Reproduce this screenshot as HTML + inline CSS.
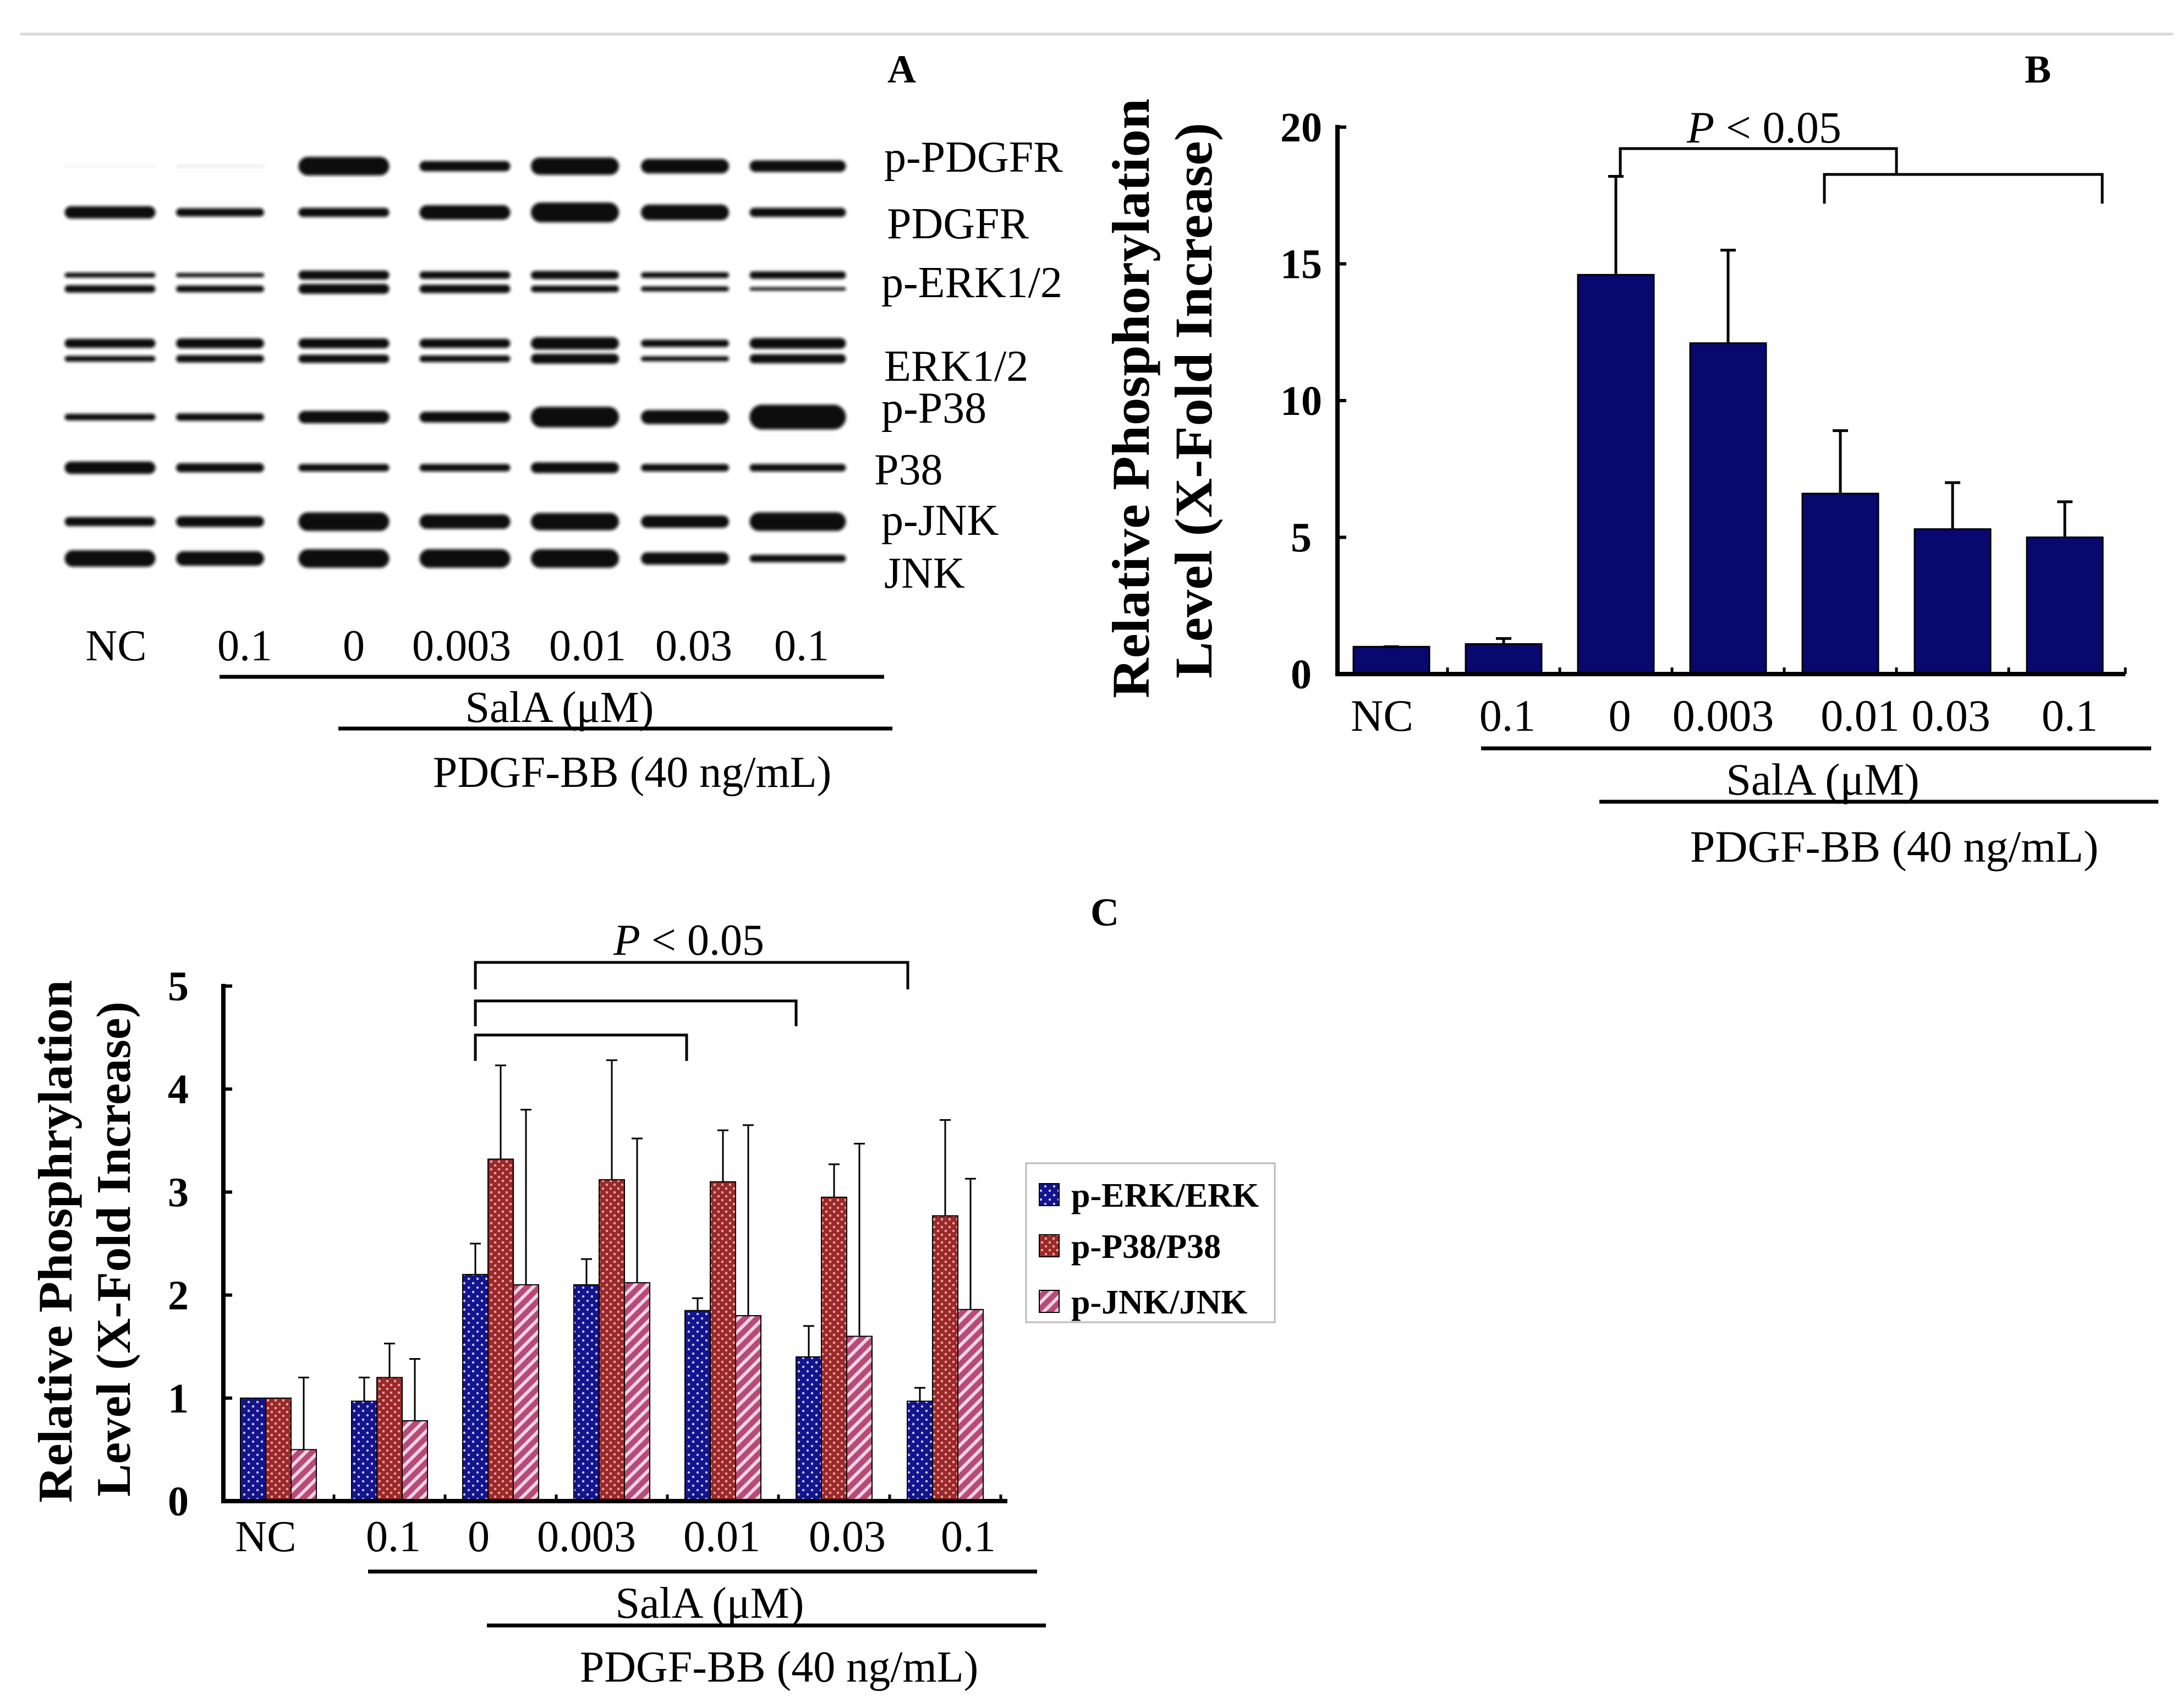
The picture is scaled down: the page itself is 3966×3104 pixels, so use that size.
<!DOCTYPE html>
<html><head><meta charset="utf-8"><style>
html,body{margin:0;padding:0;background:#fff;}
svg{display:block;font-family:"Liberation Serif",serif;}
</style></head><body>
<svg id="fig" width="3966" height="3104" viewBox="0 0 3966 3104" xmlns="http://www.w3.org/2000/svg">
<defs>
<filter id="blur" x="-10%" y="-50%" width="120%" height="200%"><feGaussianBlur stdDeviation="3"/></filter>
<pattern id="patERK" width="16" height="16" patternUnits="userSpaceOnUse">
<rect width="16" height="16" fill="#14148c"/><circle cx="4" cy="4" r="2.2" fill="#c8c8ff"/><circle cx="12" cy="12" r="2.2" fill="#c8c8ff"/></pattern>
<pattern id="patP38" width="14" height="14" patternUnits="userSpaceOnUse">
<rect width="14" height="14" fill="#9a2a2a"/><rect x="2" y="2" width="4" height="4" fill="#f0a0a0"/><rect x="9" y="9" width="4" height="4" fill="#f0a0a0"/></pattern>
<pattern id="patJNK" width="16" height="16" patternUnits="userSpaceOnUse" patternTransform="rotate(45)">
<rect width="16" height="16" fill="#b84a78"/><rect width="6" height="16" fill="#f4d4e4"/></pattern>
</defs>
<line x1="37" y1="62" x2="3950" y2="62" stroke="#d8d8d8" stroke-width="5"/>

<g id="panelA">
<text x="1639" y="150" font-size="72" font-weight="bold" text-anchor="middle">A</text>
<g id="bands" filter="url(#blur)"></g>
<g font-size="80">
<text x="1607" y="312">p-PDGFR</text>
<text x="1612" y="433">PDGFR</text>
<text x="1602" y="540">p-ERK1/2</text>
<text x="1607" y="692">ERK1/2</text>
<text x="1602" y="768">p-P38</text>
<text x="1589" y="880">P38</text>
<text x="1602" y="972">p-JNK</text>
<text x="1607" y="1068">JNK</text>
</g>
<g font-size="80" text-anchor="middle">
<text x="211" y="1200">NC</text>
<text x="445" y="1200">0.1</text>
<text x="643" y="1200">0</text>
<text x="839" y="1200">0.003</text>
<text x="1068" y="1200">0.01</text>
<text x="1261" y="1200">0.03</text>
<text x="1457" y="1200">0.1</text>
</g>
<line x1="399" y1="1230" x2="1607" y2="1230" stroke="#000" stroke-width="7"/>
<text x="1017" y="1312" font-size="80" text-anchor="middle">SalA (μM)</text>
<line x1="615" y1="1324" x2="1622" y2="1324" stroke="#000" stroke-width="7"/>
<text x="1149" y="1430" font-size="80" text-anchor="middle">PDGF-BB (40 ng/mL)</text>
</g>

<g id="panelB">
<text x="3704" y="150" font-size="72" font-weight="bold" text-anchor="middle">B</text>
<text transform="translate(2088,724) rotate(-90)" font-size="96" font-weight="bold" text-anchor="middle" textLength="1090" lengthAdjust="spacingAndGlyphs">Relative Phosphorylation</text>
<text transform="translate(2202,728) rotate(-90)" font-size="96" font-weight="bold" text-anchor="middle" textLength="1010" lengthAdjust="spacingAndGlyphs">Level (X-Fold Increase)</text>
<g id="bPlot"></g>
<text x="3066" y="259" font-size="82"><tspan font-style="italic">P</tspan> &lt; 0.05</text>
<path d="M2945,323 V270 H3447 V317" fill="none" stroke="#000" stroke-width="5"/>
<path d="M3316,370 V317 H3821 V370" fill="none" stroke="#000" stroke-width="5"/>
<line x1="2692" y1="1360" x2="3910" y2="1360" stroke="#000" stroke-width="7"/>
<text x="3313" y="1444" font-size="82" text-anchor="middle">SalA (μM)</text>
<line x1="2907" y1="1457" x2="3923" y2="1457" stroke="#000" stroke-width="7"/>
<text x="3443" y="1566" font-size="82" text-anchor="middle">PDGF-BB (40 ng/mL)</text>
</g>

<g id="panelC">
<text x="2008" y="1682" font-size="72" font-weight="bold" text-anchor="middle">C</text>
<text transform="translate(130,2256) rotate(-90)" font-size="88" font-weight="bold" text-anchor="middle" textLength="950" lengthAdjust="spacingAndGlyphs">Relative Phosphrylation</text>
<text transform="translate(236,2270) rotate(-90)" font-size="88" font-weight="bold" text-anchor="middle" textLength="900" lengthAdjust="spacingAndGlyphs">Level (X-Fold Increase)</text>
<g id="cPlot"></g>
<text x="1115" y="1735" font-size="80"><tspan font-style="italic">P</tspan> &lt; 0.05</text>
<path d="M864,1798 V1749 H1650 V1798" fill="none" stroke="#000" stroke-width="5"/>
<path d="M864,1865 V1819 H1447 V1865" fill="none" stroke="#000" stroke-width="5"/>
<path d="M864,1928 V1881 H1248 V1928" fill="none" stroke="#000" stroke-width="5"/>
<line x1="669" y1="2856" x2="1885" y2="2856" stroke="#000" stroke-width="7"/>
<text x="1290" y="2940" font-size="80" text-anchor="middle">SalA (μM)</text>
<line x1="885" y1="2954" x2="1901" y2="2954" stroke="#000" stroke-width="7"/>
<text x="1416" y="3056" font-size="80" text-anchor="middle">PDGF-BB (40 ng/mL)</text>
<g>
<rect x="1865" y="2114" width="452" height="289" fill="#fff" stroke="#bbb" stroke-width="3"/>
<rect x="1889" y="2151" width="36" height="40" fill="url(#patERK)" stroke="#000" stroke-width="2"/>
<text x="1947" y="2193" font-size="62" font-weight="bold">p-ERK/ERK</text>
<rect x="1889" y="2244" width="36" height="40" fill="url(#patP38)" stroke="#000" stroke-width="2"/>
<text x="1947" y="2286" font-size="62" font-weight="bold">p-P38/P38</text>
<rect x="1889" y="2345" width="36" height="40" fill="url(#patJNK)" stroke="#000" stroke-width="2"/>
<text x="1947" y="2387" font-size="62" font-weight="bold">p-JNK/JNK</text>
</g>
</g>
</svg>
<script>
// ---------- Panel B data ----------
const bCategories = ["NC","0.1","0","0.003","0.01","0.03","0.1"];
const bValues = [1.0, 1.1, 14.6, 12.1, 6.6, 5.3, 5.0];
const bErrTop = [1.0, 1.3, 18.2, 15.5, 8.9, 7.0, 6.3];
const bTicks = [0, 5, 10, 15, 20];
// ---------- Panel C data ----------
const cCategories = ["NC","0.1","0","0.003","0.01","0.03","0.1"];
const cERK = [1.0, 0.97, 2.2, 2.1, 1.85, 1.4, 0.97];
const cERKerr = [1.0, 1.2, 2.5, 2.35, 1.97, 1.7, 1.1];
const cP38 = [1.0, 1.2, 3.32, 3.12, 3.1, 2.95, 2.77];
const cP38err = [1.0, 1.53, 4.23, 4.28, 3.6, 3.27, 3.7];
const cJNK = [0.5, 0.78, 2.1, 2.12, 1.8, 1.6, 1.86];
const cJNKerr = [1.2, 1.38, 3.8, 3.52, 3.65, 3.47, 3.13];
const cTicks = [0, 1, 2, 3, 4, 5];
// ---------- Panel A blot band intensities (thickness, display units) ----------
const blotRowY = [302, 386, 500, 525, 624, 652, 758, 850, 948, 1015];
const blotThick = [
 [3,6,45,25,42,35,28],
 [30,20,22,35,48,38,22],
 [12,10,22,18,20,14,18],
 [18,16,24,20,16,12,8],
 [22,24,24,22,30,18,26],
 [14,18,20,16,24,12,22],
 [16,18,30,26,50,34,60],
 [30,22,18,18,26,18,18],
 [22,26,45,35,42,30,45],
 [40,35,45,45,45,30,18]
];
const laneCenters = [200, 400, 625, 845, 1045, 1245, 1450];
const laneWidths = [165, 160, 165, 165, 160, 160, 175];

const NS = "http://www.w3.org/2000/svg";
function mk(tag, attrs, parent){const e=document.createElementNS(NS,tag);for(const k in attrs)e.setAttribute(k,attrs[k]);parent.appendChild(e);return e;}

// Panel A
(function(){
 const g=document.getElementById('bands');
 blotRowY.forEach((y,r)=>{
  blotThick[r].forEach((t,i)=>{
   const h=Math.max(3,t*0.75);
   const w=laneWidths[i];
   const b=mk('rect',{x:laneCenters[i]-w/2,y:y-h/2,width:w,height:h,rx:Math.min(h/2,30),fill:t<8?'#e8e8e8':'#111'},g);
   
   
  });
 });
})();

// Panel B
(function(){
 const g=document.getElementById('bPlot');
 const x0=2431, xEnd=3863, y0=1225, yTop=231, vmax=20;
 const ys=v=>y0-(v/vmax)*(y0-yTop);
 const step=204, first=2529, bw=138;
 const xs=i=>first+i*step;
 const labelX=[2512,2740,2944,3132,3381,3546,3762];
 bCategories.forEach((c,i)=>{
  const bar=mk('rect',{x:xs(i)-bw/2,y:ys(bValues[i]),width:bw,height:y0-ys(bValues[i]),fill:'#08086e',stroke:'#000','stroke-width':3},g);
  
  
  if(bErrTop[i]>bValues[i]){
   const e=mk('path',{d:`M${xs(i)},${ys(bValues[i])} V${ys(bErrTop[i])} M${xs(i)-14},${ys(bErrTop[i])} H${xs(i)+14}`,stroke:'#000','stroke-width':5,fill:'none'},g);
   
   
  } else {
   const e=mk('line',{x1:xs(i)-14,x2:xs(i)+14,y1:ys(bValues[i]),y2:ys(bValues[i]),stroke:'#000','stroke-width':5},g);
   
   
  }
  const t=mk('text',{x:labelX[i],y:1328,'font-size':82,'text-anchor':'middle'},g);
  t.textContent=c;
  
  
  if(i>0){const tk=mk('line',{x1:xs(i)-step/2,x2:xs(i)-step/2,y1:y0,y2:y0-12,stroke:'#000','stroke-width':5},g);
   
   }
 });
 const tkEnd=mk('line',{x1:xEnd,x2:xEnd,y1:y0,y2:y0-12,stroke:'#000','stroke-width':5},g);
 
 
 bTicks.forEach(v=>{
  const l=mk('line',{x1:x0,x2:x0+16,y1:ys(v),y2:ys(v),stroke:'#000','stroke-width':6},g);
  
  
  const t=mk('text',{x:x0-66,y:ys(v)+26,'font-size':76,'font-weight':'bold','text-anchor':'middle'},g);
  t.textContent=v;
  
  
 });
 const ax=mk('path',{d:`M${x0},${yTop-4} V${y0} H${xEnd}`,stroke:'#000','stroke-width':8,fill:'none'},g);
 
 
})();

// Panel C
(function(){
 const g=document.getElementById('cPlot');
 const x0=406, xEnd=1831, y0=2728, yTop=1792, vmax=5;
 const ys=v=>y0-(v/vmax)*(y0-yTop);
 const step=202, gStart=437, bw=46;
 const labelX=[483,715,870,1066,1312,1540,1760];
 const series=[[cERK,cERKerr,'url(#patERK)','erk'],[cP38,cP38err,'url(#patP38)','p38'],[cJNK,cJNKerr,'url(#patJNK)','jnk']];
 cCategories.forEach((c,i)=>{
  series.forEach((s,k)=>{
   const x=gStart+i*step+k*bw, v=s[0][i], ev=s[1][i];
   const bar=mk('rect',{x:x,y:ys(v),width:bw,height:y0-ys(v),fill:s[2],stroke:'#000','stroke-width':2},g);
   
   
   if(ev>v){
    const cx=x+bw/2;
    const e=mk('path',{d:`M${cx},${ys(v)} V${ys(ev)} M${cx-10},${ys(ev)} H${cx+10}`,stroke:'#000','stroke-width':3,fill:'none'},g);
    
    
   }
  });
  const t=mk('text',{x:labelX[i],y:2819,'font-size':80,'text-anchor':'middle'},g);
  t.textContent=c;
  
  
  const tx=gStart+i*step+3*bw+(step-3*bw)/2;
  const tk=mk('line',{x1:tx,x2:tx,y1:y0,y2:y0-12,stroke:'#000','stroke-width':5},g);
  
  
 });
 cTicks.forEach(v=>{
  const l=mk('line',{x1:x0,x2:x0+16,y1:ys(v),y2:ys(v),stroke:'#000','stroke-width':6},g);
  
  
  const t=mk('text',{x:x0-82,y:ys(v)+26,'font-size':76,'font-weight':'bold','text-anchor':'middle'},g);
  t.textContent=v;
  
  
 });
 const ax=mk('path',{d:`M${x0},${yTop-4} V${y0} H${xEnd}`,stroke:'#000','stroke-width':8,fill:'none'},g);
 
 
})();
</script>
</body></html>
